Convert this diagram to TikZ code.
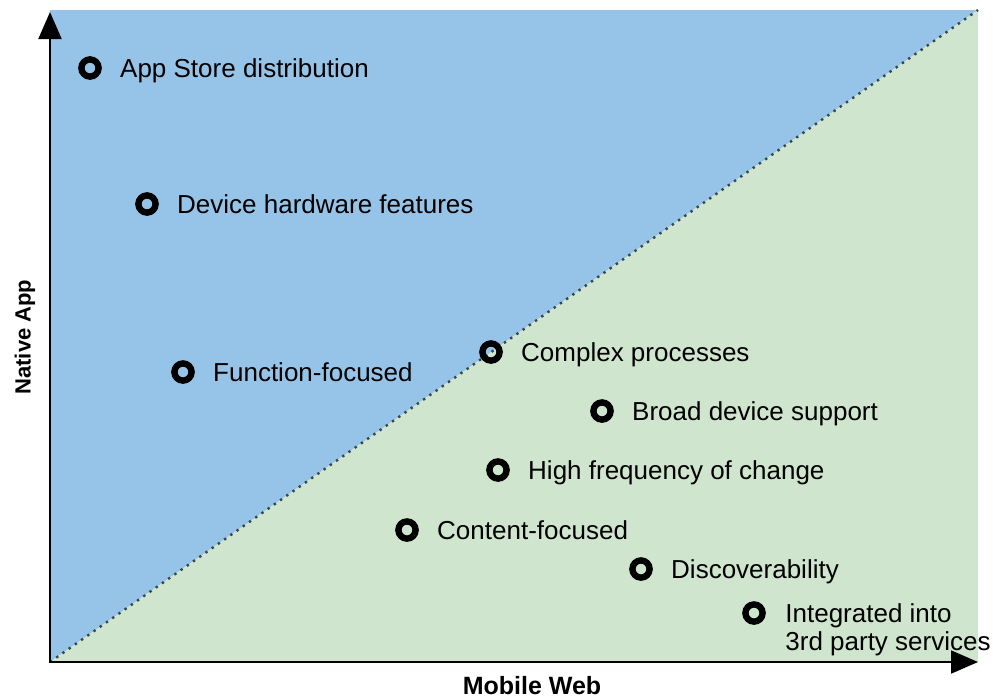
\documentclass[tikz,border=0pt]{standalone}
\usepackage{fontspec}
\setmainfont{Liberation Sans}
\usetikzlibrary{arrows.meta,positioning}
\definecolor{nativeblue}{RGB}{150,196,232}
\definecolor{webgreen}{RGB}{207,229,205}
\definecolor{dotgrey}{RGB}{55,70,80}
\tikzset{
  ring/.style={circle,draw,line width=3.2pt,minimum size=8.6pt,inner sep=0pt},
  lbl/.style={inner sep=0pt,text height=9.3pt,text depth=0pt,font=\fontsize{13}{14}\selectfont},
  axislbl/.style={inner sep=0pt,font=\bfseries\fontsize{12.5}{14}\selectfont},
  axis/.style={line width=1pt,
    {Triangle[width=11.5pt,length=13.5pt]}-{Triangle[width=11.5pt,length=13.5pt]}},
}

\begin{document}
\begin{tikzpicture}[x=0.5pt,y=-0.5pt]
  \useasboundingbox (0,0) rectangle (1005,698);
  %the two regions
  \coordinate (O) at (50,662);
  \coordinate (TL) at (50,10);
  \coordinate (TR) at (978,10);
  \coordinate (BR) at (978,662);
  \fill[nativeblue] (O) -- (TL) -- (TR) -- cycle;
  \fill[webgreen] (O) -- (TR) -- (BR) -- cycle;
  \draw[dotgrey,line width=1.2pt,dash pattern=on 1.2pt off 2.6pt] (O) -- (TR);

  %the axes
  \coordinate (ytip) at (50,12);
  \coordinate (xtip) at (978,662);
  \draw[axis] (ytip) -- (O) -- (xtip);
  \node[axislbl,font=\bfseries\fontsize{11}{13}\selectfont,rotate=90] (ylab) at (25,337) {Native App};
  \node[axislbl] (xlab) at (532,686) {Mobile Web};

  %the points
  \node[ring] (a1) at (90,68) {};
  \node[ring] (a2) at (147,204) {};
  \node[ring] (a3) at (183,372) {};
  \node[ring] (a4) at (491,352) {};
  \node[ring] (a5) at (602,411) {};
  \node[ring] (a6) at (498,470) {};
  \node[ring] (a7) at (407,530) {};
  \node[ring] (a8) at (641,569) {};
  \node[ring] (a9) at (754,613) {};

  %their labels
  \node[lbl,right=9pt of a1] (t1) {App Store distribution};
  \node[lbl,right=9pt of a2] (t2) {Device hardware features};
  \node[lbl,right=9pt of a3] (t3) {Function-focused};
  \node[lbl,right=9pt of a4] (t4) {Complex processes};
  \node[lbl,right=9pt of a5] (t5) {Broad device support};
  \node[lbl,right=9pt of a6] (t6) {High frequency of change};
  \node[lbl,right=9pt of a7] (t7) {Content-focused};
  \node[lbl,right=9pt of a8] (t8) {Discoverability};
  \node[lbl,text height=,align=left,anchor=north west] (t9) at (785,603) {Integrated into\\3rd party services};
\end{tikzpicture}
\end{document}
